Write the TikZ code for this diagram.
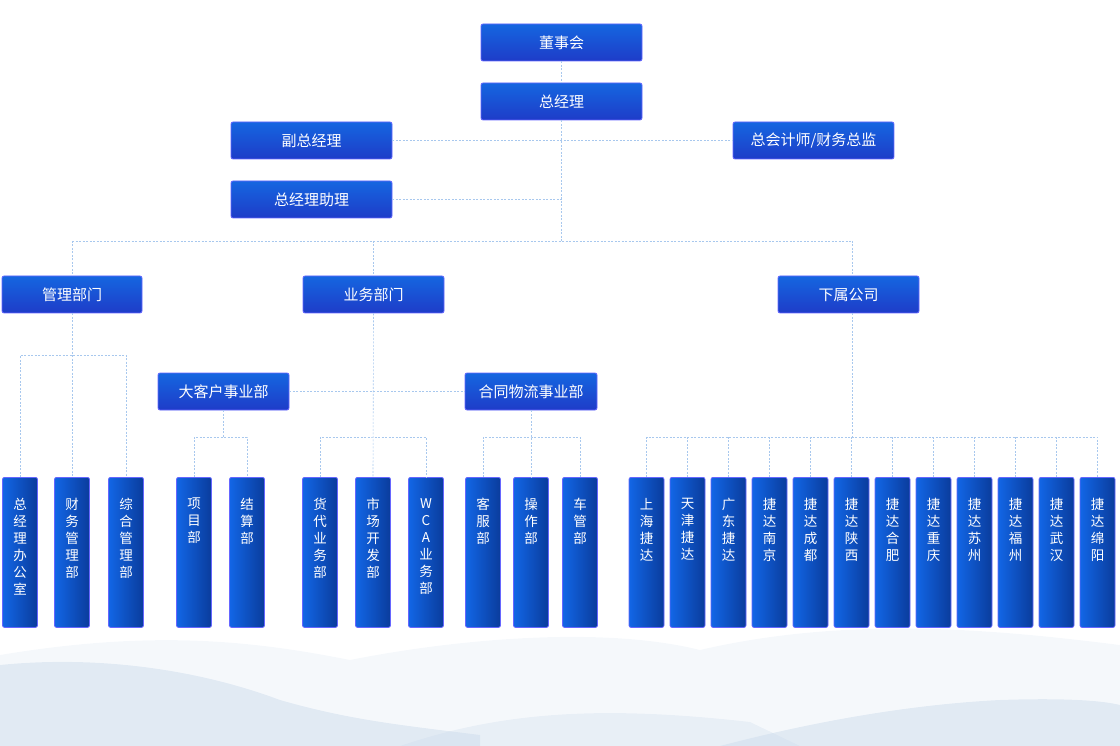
\documentclass[tikz,border=0pt]{standalone}
\usepackage{fontspec}
\newfontfamily\cjk{Noto Sans CJK SC}
\begin{document}
\begin{tikzpicture}[x=1pt,y=-1pt,
 hbox/.style={draw=blue!60!white,line width=0.8pt,rounded corners=2pt,top color=hb1,bottom color=hb2,text=white,font=\cjk\fontsize{15}{17}\selectfont,minimum height=37pt,inner sep=0pt},
 vbox/.style={draw=blue!60!white,line width=0.8pt,rounded corners=2pt,left color=vb1,right color=vb2,minimum width=35pt,minimum height=150pt,inner sep=0pt,anchor=north},
 vlab/.style={text=white,font=\cjk\fontsize{13.5}{17}\selectfont,align=center,inner sep=0pt,anchor=north},
 ln/.style={draw=lb,dashed,dash pattern=on 2pt off 1.5pt,line width=0.6pt}]
\definecolor{hb1}{HTML}{1566E0}\definecolor{hb2}{HTML}{1E3CC8}
\definecolor{vb1}{HTML}{1266E6}\definecolor{vb2}{HTML}{0A3C9C}
\definecolor{lb}{HTML}{A8C8EE}\definecolor{mt}{HTML}{C9D9EA}
\useasboundingbox (0,0) rectangle (1120,746);
% mountains
\fill[mt,opacity=0.18] (0,655) .. controls (150,630) and (250,640) .. (350,660) .. controls (450,640) and (600,625) .. (700,650) .. controls (850,615) and (1000,630) .. (1120,645) -- (1120,746) -- (0,746) -- cycle;
\fill[mt,opacity=0.45] (0,665) .. controls (100,655) and (200,670) .. (280,700) .. controls (350,720) and (400,725) .. (480,735) -- (480,746) -- (0,746) -- cycle;
\fill[mt,opacity=0.45] (720,746) .. controls (800,725) and (900,705) .. (1000,700) .. controls (1060,698) and (1100,700) .. (1120,705) -- (1120,746) -- cycle;
\fill[mt,opacity=0.3] (400,746) .. controls (500,712) and (600,705) .. (750,722) -- (800,746) -- cycle;
% top nodes
\node[hbox,minimum width=161pt] (dsh) at (561.5,42.5) {董事会};
\node[hbox,minimum width=161pt] (zjl) at (561.5,101.5) {总经理};
\node[hbox,minimum width=161pt] (fzjl) at (311.5,140.5) {副总经理};
\node[hbox,minimum width=161pt] (zkj) at (813.5,140.5) {总会计师/财务总监};
\node[hbox,minimum width=161pt] (zl) at (311.5,199.5) {总经理助理};
\node[hbox,minimum width=140pt] (gl) at (72,294.5) {管理部门};
\node[hbox,minimum width=141pt] (yw) at (373.5,294.5) {业务部门};
\node[hbox,minimum width=141pt] (xs) at (848.5,294.5) {下属公司};
\node[hbox,minimum width=131pt] (dkh) at (223.5,391.5) {大客户事业部};
\node[hbox,minimum width=132pt] (ht) at (531,391.5) {合同物流事业部};
\coordinate (c241) at (561.5,241);
\coordinate (cL) at (72,241);\coordinate (cR) at (852,241);
\draw[ln] (dsh) -- (zjl);
\draw[ln] (zjl) -- (c241);
\draw[ln] (fzjl.east) -- (zkj.west);
\draw[ln] (zl.east) -- (561.5,199.5);
\draw[ln] (cL) -- (cR);
\draw[ln] (cL) -- (gl.north);
\draw[ln] (373.5,241) -- (yw.north);
\draw[ln] (cR) -- (852,276);
\draw[ln] (dkh.east) -- (ht.west);
% vertical boxes
\foreach \n/\x/\t in {v1/20/总\\经\\理\\办\\公\\室, v2/72/财\\务\\管\\理\\部, v3/126/综\\合\\管\\理\\部,
 v4/194/项\\目\\部, v5/247/结\\算\\部, v6/320/货\\代\\业\\务\\部, v7/373/市\\场\\开\\发\\部, v8/426/W\\C\\A\\业\\务\\部,
 v9/483/客\\服\\部, v10/531/操\\作\\部, v11/580/车\\管\\部}
 {\node[vbox] (\n) at (\x,477) {}; \node[vlab] (\n l) at (\x,498) {\t};}
\foreach \t [count=\k from 0] in {上\\海\\捷\\达,天\\津\\捷\\达,广\\东\\捷\\达,捷\\达\\南\\京,捷\\达\\成\\都,捷\\达\\陕\\西,捷\\达\\合\\肥,捷\\达\\重\\庆,捷\\达\\苏\\州,捷\\达\\福\\州,捷\\达\\武\\汉,捷\\达\\绵\\阳}
 {\node[vbox] (s\k) at ({646.5+41*\k},477) {}; \node[vlab] (s\k l) at ({646.5+41*\k},498) {\t};}
% branch lines
\coordinate (g1) at (72,355);
\draw[ln] (gl.south) -- (g1);
\draw[ln] (v1.north) |- (g1) -| (v3.north);
\draw[ln] (g1) -- (v2.north);
\draw[ln] (dkh.south) -- (223.5,437);
\draw[ln] (v4.north) |- (223.5,437) -| (v5.north);
\draw[ln] (yw.south) -- (v7.north);
\draw[ln] (v6.north) |- (373,437) -| (v8.north);
\draw[ln] (ht.south) -- (v10.north);
\draw[ln] (v9.north) |- (531,437) -| (v11.north);
\draw[ln] (xs.south -| 852,0) -- (852,437);
\draw[ln] (s0.north) |- (s11.north |- 0,437) -- (s11.north);
\foreach \k in {1,...,10} \draw[ln] (s\k.north) -- ++(0,-40);
\end{tikzpicture}
\end{document}
